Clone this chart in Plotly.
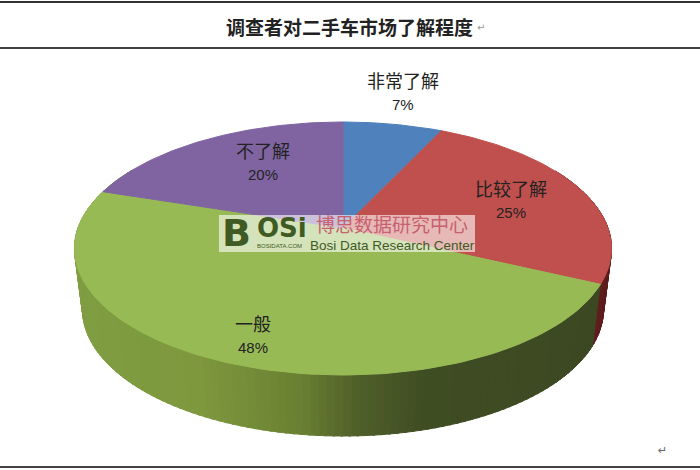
import numpy as np
import plotly.graph_objects as go

categories = ["非常了解", "比较了解", "一般", "不了解"]
values = [7, 25, 48, 20]
percent_labels = ["7%", "25%", "48%", "20%"]
top_colors = ["#4F81BD", "#C0504D", "#97BA55", "#8064A2"]
title_text = "调查者对二手车市场了解程度"
label_x = [403, 511, 253, 263]
label_y = [92, 200, 335, 162]

CX, CY, R, S, K, DEPTH, BOTTOM_X = 343, 228, 265, 123.2, 0.162, 61, 0.97

def project(theta_deg, drop=0.0, xscale=1.0):
    t = np.radians(theta_deg)
    u, v = np.sin(t), np.cos(t)
    w = 1 + K * v
    return CX + xscale * R * u / w, CY - S * v / w + drop

def lerp(stops, f):
    xs = [s[0] for s in stops]
    rgb = [np.interp(f, xs, [s[1][i] for s in stops]) for i in range(3)]
    return "rgb(%d,%d,%d)" % tuple(int(c) for c in rgb)

# side-wall shading, keyed by horizontal position in the picture
green_side = [(75, (128, 158, 66)), (200, (126, 152, 62)), (300, (106, 128, 50)), (350, (82, 98, 42)), (420, (64, 78, 36)), (610, (60, 72, 34))]
red_side = [(0, (70, 20, 22)), (1, (96, 30, 30))]

fig = go.Figure()
ends = np.cumsum(values) / np.sum(values) * 360
starts = np.concatenate([[0], ends[:-1]])

for a in np.arange(60, 300, 1.5):
    b = a + 2.0
    mid = a + 0.75
    x1, y1 = project(a)
    x2, y2 = project(b)
    x3, y3 = project(b, DEPTH, BOTTOM_X)
    x4, y4 = project(a, DEPTH, BOTTOM_X)
    if mid < ends[1]:
        col = lerp(red_side, (mid - 60) / (ends[1] - 60))
    else:
        col = lerp(green_side, (x1 + x2) / 2)
    fig.add_trace(go.Scatter(x=[x1, x2, x3, x4, x1], y=[y1, y2, y3, y4, y1], mode="lines",
                             fill="toself", fillcolor=col, line=dict(color=col, width=1),
                             hoverinfo="skip", showlegend=False))

for s, e, c, name in zip(starts, ends, top_colors, categories):
    th = np.linspace(s, e, 120)
    xs, ys = project(th)
    fig.add_trace(go.Scatter(x=np.r_[CX, xs, CX], y=np.r_[CY, ys, CY], mode="lines", fill="toself",
                             fillcolor=c, line=dict(color=c, width=1), name=name, showlegend=False,
                             hoverinfo="name"))

shapes = [
    dict(type="line", xref="x", yref="y", x0=0, x1=700, y0=2, y1=2, line=dict(color="#333333", width=2)),
    dict(type="line", xref="x", yref="y", x0=0, x1=700, y0=48, y1=48, line=dict(color="#444444", width=2)),
    dict(type="line", xref="x", yref="y", x0=0, x1=700, y0=467, y1=467, line=dict(color="#444444", width=2)),
    dict(type="rect", xref="x", yref="y", x0=219, x1=475, y0=215, y1=252, layer="above",
         fillcolor="rgba(255,255,255,0.6)", line=dict(width=0)),
]

FONT = "Noto Sans CJK SC, sans-serif"
LOGO = "#3F5A22"
ann = [dict(x=349, y=26, text="<b>%s</b>" % title_text, font=dict(size=19, color="#222222", family=FONT), showarrow=False),
       dict(x=481, y=27, text="↵", font=dict(size=10, color="#999999", family="DejaVu Sans"), showarrow=False),
       dict(x=662, y=450, text="↵", font=dict(size=11, color="#666666", family="DejaVu Sans"), showarrow=False),
       dict(x=236, y=233, text="<b>B</b>", font=dict(size=38, color=LOGO, family="DejaVu Sans"), showarrow=False),
       dict(x=282, y=228, text="<b>OSi</b>", font=dict(size=26, color=LOGO, family="DejaVu Sans"), showarrow=False),
       dict(x=392, y=223, text="博思数据研究中心", font=dict(size=19, color="#C8606E", family=FONT), showarrow=False),
       dict(x=392, y=245, text="Bosi Data Research Center", font=dict(size=13.5, color=LOGO, family="Liberation Sans"), showarrow=False),
       dict(x=279, y=246, text="BOSIDATA.COM", font=dict(size=6, color=LOGO, family="Liberation Sans"), showarrow=False)]
for cat, pct, lx, ly in zip(categories, percent_labels, label_x, label_y):
    ann.append(dict(x=lx, y=ly - 12, text=cat, font=dict(size=18, color="#222222", family=FONT), showarrow=False))
    ann.append(dict(x=lx, y=ly + 12, text=pct, font=dict(size=15, color="#222222", family="Liberation Sans"), showarrow=False))
for a in ann:
    a.update(xref="x", yref="y")

fig.update_layout(width=700, height=470, margin=dict(l=0, r=0, t=0, b=0), paper_bgcolor="white", plot_bgcolor="white",
                  xaxis=dict(range=[0, 700], visible=False, fixedrange=True),
                  yaxis=dict(range=[470, 0], visible=False, fixedrange=True),
                  shapes=shapes, annotations=ann, showlegend=False)
fig.write_html("out.html", config=dict(displayModeBar=False),
               post_script="document.body.style.margin='0';document.body.style.overflow='hidden';")
